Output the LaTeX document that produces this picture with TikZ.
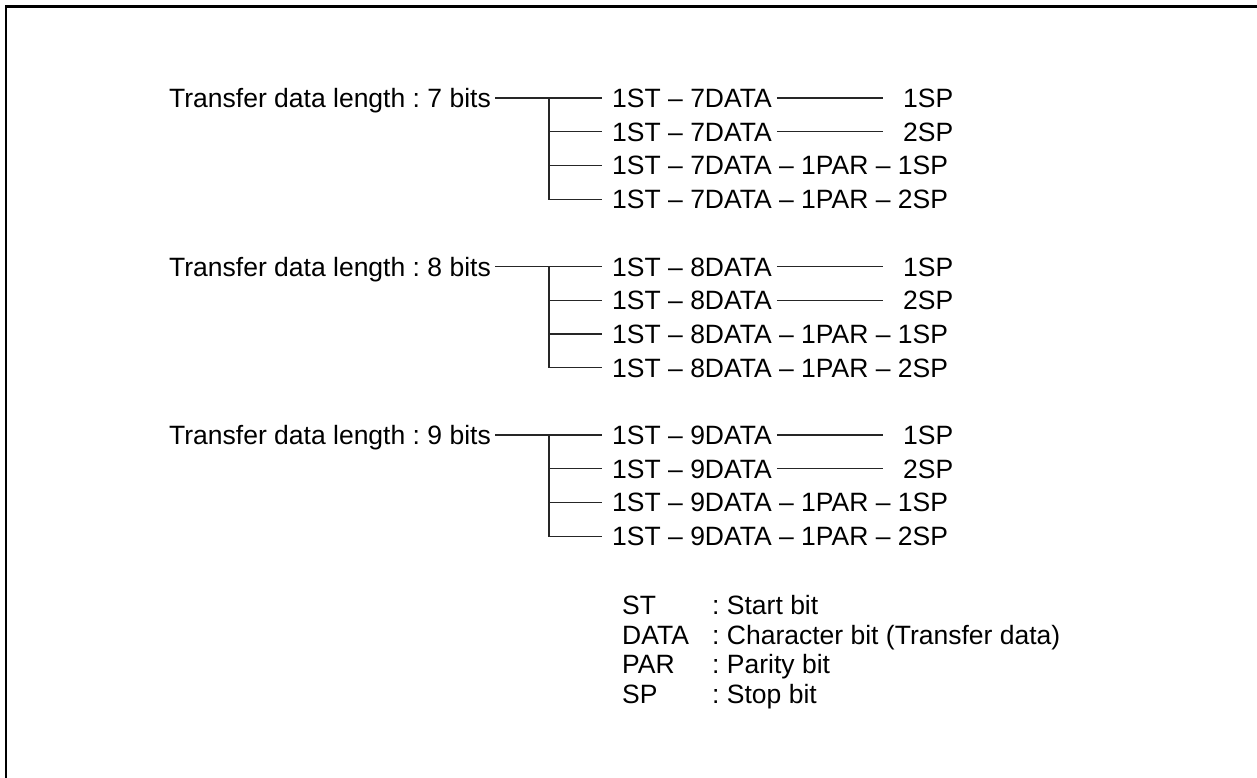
\documentclass[tikz,border=0pt]{standalone}
\usepackage{fontspec}
\setmainfont{Liberation Sans}
\usetikzlibrary{positioning}
\frenchspacing

\begin{document}
\begin{tikzpicture}[
    x=1pt, y=-1pt,
    every node/.style={font=\fontsize{26.5}{30}\selectfont},
    txt/.style={inner sep=0pt, text height=19pt, text depth=0pt},
    row/.style={txt, anchor=west},
    title/.style={txt, anchor=east},
    link/.style={line width=1.2pt, black!85},
    branch/.style={link, shorten >=10pt},
    stop/.style={link, shorten <=5pt, shorten >=20pt},
    frame/.style={line width=2.7pt},
]
\useasboundingbox (0,0) rectangle (1257,778);

% === Outer frame (left and top edges only) ===
\draw[frame] (6,778) -- (6,6.7) -- (1257,6.7);

% === 7 bits ===
\node[title] (len7) at (491,98) {Transfer data length : 7 bits};
\node[row] (r7a) at (612,98) {1ST – 7DATA};
\node[row] at ([yshift=-33.7pt]r7a.west) (r7b) {1ST – 7DATA};
\node[row] at ([yshift=-33.7pt]r7b.west) (r7c) {1ST – 7DATA – 1PAR – 1SP};
\node[row] at ([yshift=-33.7pt]r7c.west) (r7d) {1ST – 7DATA – 1PAR – 2SP};
\node[txt, right=131pt of r7a] (s7a) {1SP};
\node[txt, right=131pt of r7b] (s7b) {2SP};
\coordinate (j7) at ([xshift=-63pt]r7a.west);

\draw[link, shorten <=4pt, shorten >=10pt] (len7.east) -- (r7a.west);
\draw[branch] (j7) |- (r7b.west);
\draw[branch] (j7) |- (r7c.west);
\draw[branch] (j7) |- (r7d.west);
\draw[stop] (r7a.east) -- (s7a.west);
\draw[stop] (r7b.east) -- (s7b.west);

% === 8 bits ===
\node[title] at ([yshift=-168.5pt]len7.east) (len8) {Transfer data length : 8 bits};
\node[row] at ([yshift=-168.5pt]r7a.west) (r8a) {1ST – 8DATA};
\node[row] at ([yshift=-33.7pt]r8a.west) (r8b) {1ST – 8DATA};
\node[row] at ([yshift=-33.7pt]r8b.west) (r8c) {1ST – 8DATA – 1PAR – 1SP};
\node[row] at ([yshift=-33.7pt]r8c.west) (r8d) {1ST – 8DATA – 1PAR – 2SP};
\node[txt, right=131pt of r8a] (s8a) {1SP};
\node[txt, right=131pt of r8b] (s8b) {2SP};
\coordinate (j8) at ([xshift=-63pt]r8a.west);

\draw[link, shorten <=4pt, shorten >=10pt] (len8.east) -- (r8a.west);
\draw[branch] (j8) |- (r8b.west);
\draw[branch] (j8) |- (r8c.west);
\draw[branch] (j8) |- (r8d.west);
\draw[stop] (r8a.east) -- (s8a.west);
\draw[stop] (r8b.east) -- (s8b.west);

% === 9 bits ===
\node[title] at ([yshift=-168.5pt]len8.east) (len9) {Transfer data length : 9 bits};
\node[row] at ([yshift=-168.5pt]r8a.west) (r9a) {1ST – 9DATA};
\node[row] at ([yshift=-33.7pt]r9a.west) (r9b) {1ST – 9DATA};
\node[row] at ([yshift=-33.7pt]r9b.west) (r9c) {1ST – 9DATA – 1PAR – 1SP};
\node[row] at ([yshift=-33.7pt]r9c.west) (r9d) {1ST – 9DATA – 1PAR – 2SP};
\node[txt, right=131pt of r9a] (s9a) {1SP};
\node[txt, right=131pt of r9b] (s9b) {2SP};
\coordinate (j9) at ([xshift=-63pt]r9a.west);

\draw[link, shorten <=4pt, shorten >=10pt] (len9.east) -- (r9a.west);
\draw[branch] (j9) |- (r9b.west);
\draw[branch] (j9) |- (r9c.west);
\draw[branch] (j9) |- (r9d.west);
\draw[stop] (r9a.east) -- (s9a.west);
\draw[stop] (r9b.east) -- (s9b.west);

% === Legend ===
\node[row] at ([xshift=10pt, yshift=-69pt]r9d.west) (kst) {ST};
\node[row] at ([yshift=-29.5pt]kst.west) (kdata) {DATA};
\node[row] at ([yshift=-29.5pt]kdata.west) (kpar) {PAR};
\node[row] at ([yshift=-29.5pt]kpar.west) (ksp) {SP};
\node[row] at ([xshift=90pt]kst.west) (dst) {: Start bit};
\node[row] at ([xshift=90pt]kdata.west) (ddata) {: Character bit (Transfer data)};
\node[row] at ([xshift=90pt]kpar.west) (dpar) {: Parity bit};
\node[row] at ([xshift=90pt]ksp.west) (dsp) {: Stop bit};

\end{tikzpicture}
\end{document}
